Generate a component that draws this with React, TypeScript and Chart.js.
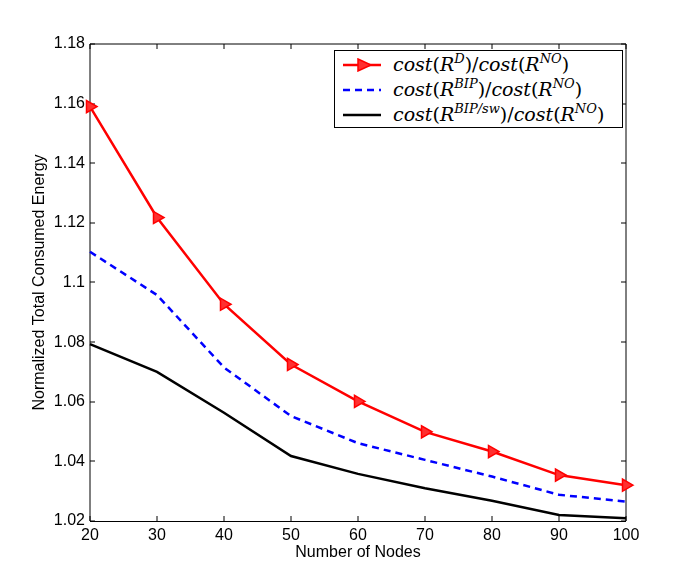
import { useEffect, useRef } from "react";
import { Chart, registerables } from "chart.js";

Chart.register(...registerables);

// number of nodes on the x axis
const nodeCounts = [20, 30, 40, 50, 60, 70, 80, 90, 100];

// normalized energy for each routing scheme
const ratioD = [1.159, 1.1218, 1.0927, 1.0725, 1.0601, 1.0499, 1.0433, 1.0354, 1.032];
const ratioBIP = [1.1103, 1.0958, 1.0715, 1.0552, 1.0461, 1.0405, 1.0349, 1.0288, 1.0265];
const ratioBIPsw = [1.0793, 1.07, 1.0563, 1.0418, 1.0358, 1.031, 1.0268, 1.022, 1.0209];

const seriesColors = ["#ff0000", "#0000ff", "#000000"];
const seriesSup = ["D", "BIP", "BIP/sw"];

const yTicks = [1.02, 1.04, 1.06, 1.08, 1.1, 1.12, 1.14, 1.16, 1.18];

const PLOT = { left: 90, right: 626, top: 44, bottom: 521 };

// MATLAB style box with inward ticks on all four sides
const boxPlugin = {
  id: "matlabBox",
  beforeDatasetsDraw(chart: any) {
    const { ctx, chartArea } = chart;
    const xs = chart.scales.x;
    const ys = chart.scales.y;
    const l = chartArea.left;
    const r = chartArea.right;
    const t = chartArea.top;
    const b = chartArea.bottom;
    ctx.save();
    ctx.strokeStyle = "#000";
    ctx.lineWidth = 1;
    ctx.beginPath();
    ctx.moveTo(l, t);
    ctx.lineTo(r, t);
    ctx.moveTo(r, t);
    ctx.lineTo(r, b);
    ctx.moveTo(l, b + 0.5);
    ctx.lineTo(r, b + 0.5);
    ctx.moveTo(l, t);
    ctx.lineTo(l, b);
    const len = 5;
    nodeCounts.forEach((n) => {
      const px = Math.round(xs.getPixelForValue(n));
      ctx.moveTo(px, b);
      ctx.lineTo(px, b - len);
      ctx.moveTo(px, t);
      ctx.lineTo(px, t + len);
    });
    yTicks.forEach((v) => {
      const py = Math.round(ys.getPixelForValue(v));
      ctx.moveTo(l, py);
      ctx.lineTo(l + len, py);
      ctx.moveTo(r, py);
      ctx.lineTo(r - len, py);
    });
    ctx.stroke();
    ctx.restore();
  },
};

const mathFont = '"DejaVu Serif", "Liberation Serif", serif';
const supStyle = { fontSize: 13, fontStyle: "italic" as const, verticalAlign: 8, lineHeight: 0 };

const MathLabel = ({ sup }: { sup: string }) => (
  <span style={{ fontFamily: mathFont, fontSize: 19, whiteSpace: "nowrap", lineHeight: "25px" }}>
    <i>cost</i>(<i>R</i>
    <sup style={supStyle}>{sup}</sup>)/<i>cost</i>(<i>R</i>
    <sup style={supStyle}>NO</sup>)
  </span>
);

const LegendSample = ({ i }: { i: number }) => (
  <svg width={46} height={14} style={{ marginLeft: 8, marginRight: 4, flexShrink: 0 }}>
    <line
      x1={0}
      y1={7}
      x2={38}
      y2={7}
      stroke={seriesColors[i]}
      strokeWidth={2.5}
      strokeDasharray={i === 1 ? "7 5" : undefined}
    />
    {i === 0 && <polygon points="15,1 28,7 15,13" fill="#ff3030" stroke="#ff0000" strokeWidth={1.5} />}
  </svg>
);

const App = () => {
  const canvasRef = useRef<HTMLCanvasElement>(null);

  useEffect(() => {
    document.body.style.margin = "0";
    if (!canvasRef.current) return;
    const ctx = canvasRef.current.getContext("2d");
    if (!ctx) return;

    const toPoints = (vals: number[]) => vals.map((v, i) => ({ x: nodeCounts[i], y: v }));

    const chart = new Chart(ctx, {
      type: "line",
      data: {
        datasets: [
          {
            label: "D",
            data: toPoints(ratioD),
            borderColor: seriesColors[0],
            borderWidth: 2.5,
            pointStyle: "triangle",
            rotation: 90,
            pointRadius: 7,
            pointBackgroundColor: "#ff3030",
            pointBorderColor: "#ff0000",
            pointBorderWidth: 1.5,
            clip: false,
          },
          {
            label: "BIP",
            data: toPoints(ratioBIP),
            borderColor: seriesColors[1],
            borderWidth: 2.5,
            borderDash: [7, 5],
            pointRadius: 0,
            clip: false,
          },
          {
            label: "BIP/sw",
            data: toPoints(ratioBIPsw),
            borderColor: seriesColors[2],
            borderWidth: 2.5,
            pointRadius: 0,
            clip: false,
          },
        ],
      },
      options: {
        animation: false,
        responsive: false,
        maintainAspectRatio: false,
        devicePixelRatio: 1,
        layout: { padding: { top: PLOT.top, right: 692 - PLOT.right, left: 0, bottom: 0 } },
        plugins: { legend: { display: false }, tooltip: { enabled: false } },
        scales: {
          x: {
            type: "linear",
            min: 20,
            max: 100,
            grid: { display: false, drawTicks: false },
            border: { display: false },
            ticks: {
              stepSize: 10,
              padding: 5,
              color: "#000",
              font: { family: '"Liberation Sans", Arial, sans-serif', size: 16 },
            },
            title: {
              display: true,
              text: "Number of Nodes",
              color: "#000",
              font: { family: '"Liberation Sans", Arial, sans-serif', size: 16 },
              padding: { top: 0, bottom: 25 },
            },
            afterFit: (scale: any) => {
              scale.height = 587 - PLOT.bottom;
            },
          },
          y: {
            type: "linear",
            min: 1.02,
            max: 1.18,
            grid: { display: false, drawTicks: false },
            border: { display: false },
            ticks: {
              stepSize: 0.02,
              padding: 5,
              color: "#000",
              font: { family: '"Liberation Sans", Arial, sans-serif', size: 16 },
              callback: (v: any) => String(Number(Number(v).toFixed(2))),
            },
            title: {
              display: true,
              text: "Normalized Total Consumed Energy",
              color: "#000",
              font: { family: '"Liberation Sans", Arial, sans-serif', size: 16 },
              padding: { top: 30, bottom: 0 },
            },
            afterFit: (scale: any) => {
              scale.width = PLOT.left;
            },
          },
        },
      },
      plugins: [boxPlugin],
    });

    return () => chart.destroy();
  }, []);

  return (
    <div style={{ position: "relative", width: 692, height: 587, background: "#fff" }}>
      <canvas ref={canvasRef} width={692} height={587} style={{ display: "block" }} />
      <div
        style={{
          position: "absolute",
          left: 334,
          top: 50,
          width: 287,
          height: 75,
          border: "1px solid #000",
          background: "#fff",
          paddingTop: 1,
        }}
      >
        {seriesSup.map((s, i) => (
          <div key={s} style={{ display: "flex", alignItems: "center", height: 25 }}>
            <LegendSample i={i} />
            <MathLabel sup={s} />
          </div>
        ))}
      </div>
    </div>
  );
};

export default App;
